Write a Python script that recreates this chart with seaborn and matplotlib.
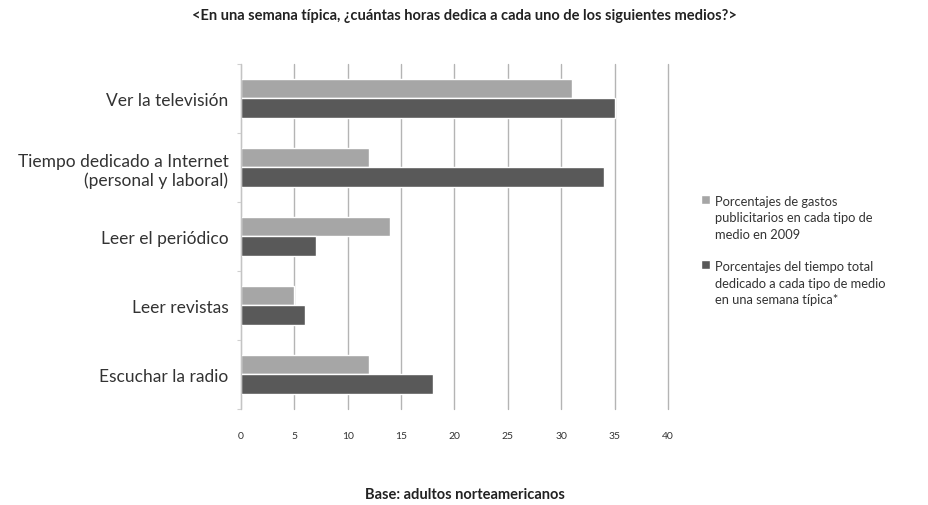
import pandas as pd
import seaborn as sns
import matplotlib.pyplot as plt

categorias = ['Ver la televisión', 'Tiempo dedicado a Internet\n(personal y laboral)',
              'Leer el periódico', 'Leer revistas', 'Escuchar la radio']
gastos_publicitarios = [31, 12, 14, 5, 12]
tiempo_total = [35, 34, 7, 6, 18]
serie_gastos = 'Porcentajes de gastos\npublicitarios en cada tipo de\nmedio en 2009'
serie_tiempo = 'Porcentajes del tiempo total\ndedicado a cada tipo de medio\nen una semana típica*'
x_ticks = [0, 5, 10, 15, 20, 25, 30, 35, 40]

df = pd.DataFrame({
    'medio': categorias * 2,
    'valor': gastos_publicitarios + tiempo_total,
    'serie': [serie_gastos] * len(categorias) + [serie_tiempo] * len(categorias),
})

sns.set_style('white')
plt.rcParams['font.family'] = ['Lato', 'DejaVu Sans']

fig = plt.figure(figsize=(9.29, 5.06), dpi=100)
ax = fig.add_axes([0.2594, 0.19, 0.4596, 0.682])

sns.barplot(data=df, y='medio', x='valor', hue='serie', orient='h',
            palette=['#a6a6a6', '#595959'], width=0.57, gap=0,
            saturation=1, ax=ax, legend=True)

ax.set_xlim(0, 40)
ax.set_xticks(x_ticks)
ax.set_xticklabels([str(t) for t in x_ticks], fontsize=7.5, color='#333333')
ax.tick_params(axis='y', labelsize=12.5, length=0, pad=9, colors='#333333')
ax.set_yticks([i - 0.5 for i in range(len(categorias) + 1)], minor=True)
ax.tick_params(axis='y', which='minor', length=3, width=0.8, color='#d0d0d0', left=True)
ax.set_xlabel('')
ax.set_ylabel('')
ax.grid(axis='x', color='#b4b4b4', linewidth=1)
for gl in ax.get_xgridlines():
    gl.set_clip_on(False)
ax.set_axisbelow(True)
for s in ['top', 'right', 'bottom']:
    ax.spines[s].set_visible(False)
ax.spines['left'].set_color('#c4c4c4')
ax.tick_params(axis='x', length=0, pad=16)

leg = ax.legend(loc='center left', bbox_to_anchor=(1.05, 0.46), frameon=False,
                fontsize=9.3, handlelength=0.7, handleheight=0.7, handletextpad=0.4,
                labelspacing=1.6, labelcolor='#333333')
for t in leg.get_texts():
    t.set_linespacing(1.45)
# square marker sits next to the first line of each label
for row in leg._legend_handle_box.get_children()[0].get_children():
    row.align = 'top'

fig.text(0.5, 0.968, '<En una semana típica, ¿cuántas horas dedica a cada uno de los siguientes medios?>',
         ha='center', va='center', fontsize=10.5, fontweight='bold', color='#222222')
fig.text(0.5, 0.022, 'Base: adultos norteamericanos', ha='center', va='center',
         fontsize=10.5, fontweight='bold', color='#222222')

fig.savefig('out.png', dpi=100)
